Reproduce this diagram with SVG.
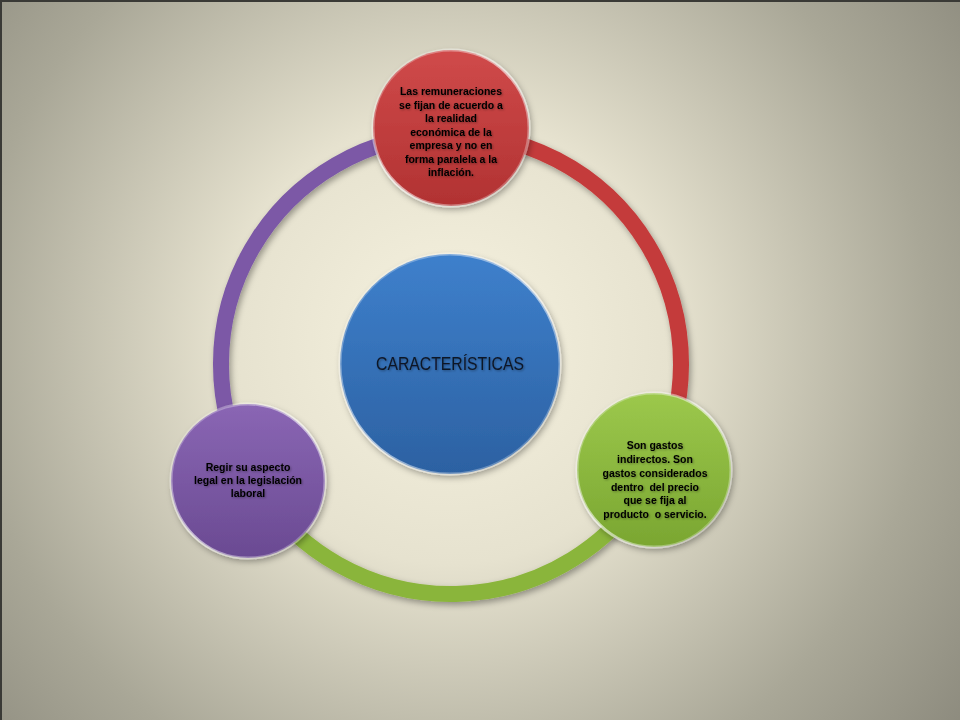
<svg xmlns="http://www.w3.org/2000/svg" width="960" height="720" viewBox="0 0 960 720">
<defs>
<radialGradient id="bg" gradientUnits="userSpaceOnUse" cx="450" cy="340" r="640">
<stop offset="0" stop-color="#f6f2df"/>
<stop offset="0.35" stop-color="#e6e2cf"/>
<stop offset="0.75" stop-color="#a9a797"/>
<stop offset="1" stop-color="#8d8b7e"/>
</radialGradient>
<linearGradient id="gBlue" x1="0" y1="0" x2="0" y2="1">
<stop offset="0" stop-color="#3e80cc"/>
<stop offset="1" stop-color="#2c61a2"/>
</linearGradient>
<linearGradient id="gRed" x1="0" y1="0" x2="0" y2="1">
<stop offset="0" stop-color="#d04a4a"/>
<stop offset="1" stop-color="#b13232"/>
</linearGradient>
<linearGradient id="gGreen" x1="0" y1="0" x2="0" y2="1">
<stop offset="0" stop-color="#9cc84c"/>
<stop offset="1" stop-color="#7aa631"/>
</linearGradient>
<linearGradient id="gPurple" x1="0" y1="0" x2="0" y2="1">
<stop offset="0" stop-color="#8a66b4"/>
<stop offset="1" stop-color="#6a4a92"/>
</linearGradient>
<linearGradient id="rim" x1="0" y1="0" x2="1" y2="1">
<stop offset="0" stop-color="#ffffff" stop-opacity="0.1"/>
<stop offset="0.5" stop-color="#ffffff" stop-opacity="0.6"/>
<stop offset="1" stop-color="#ffffff" stop-opacity="0.1"/>
</linearGradient>
<filter id="sh" x="-20%" y="-20%" width="140%" height="140%">
<feDropShadow dx="2" dy="3" stdDeviation="3" flood-color="#000" flood-opacity="0.35"/>
</filter>
<filter id="tsh" x="-10%" y="-30%" width="120%" height="160%">
<feDropShadow dx="1" dy="1" stdDeviation="0.8" flood-color="#000" flood-opacity="0.35"/>
</filter>
</defs>
<style>
.arc{fill:none;stroke-width:16;stroke-linecap:butt}
.node{stroke:url(#rim);stroke-width:3}
.t{font-family:"Liberation Sans",Arial,sans-serif;font-weight:bold;font-size:10.5px;fill:#000;text-anchor:middle;white-space:pre}
.c{font-family:"Liberation Sans",Arial,sans-serif;font-size:18.5px;fill:#0d1626;text-anchor:middle}
</style>
<rect x="0" y="0" width="960" height="720" fill="url(#bg)"/>
<rect x="0" y="0" width="960" height="2" fill="#3a3a36"/>
<rect x="0" y="0" width="2" height="720" fill="#3a3a36"/>
<g id="connectors" filter="url(#sh)">
<path class="arc" stroke="#c43b3b" d="M 451 134 A 230 230 0 0 1 654.8 470.6"/>
<path class="arc" stroke="#8ab53a" d="M 654.8 470.6 A 230 230 0 0 1 251.8 479"/>
<path class="arc" stroke="#7b58a6" d="M 251.8 479 A 230 230 0 0 1 451 134"/>
</g>
<g id="center">
<circle cx="450" cy="364" r="110" fill="url(#gBlue)" class="node" filter="url(#sh)"/>
<text class="c" x="450" y="370" textLength="148" lengthAdjust="spacingAndGlyphs" filter="url(#tsh)">CARACTERÍSTICAS</text>
</g>
<g id="node-red">
<circle cx="451" cy="128" r="78" fill="url(#gRed)" class="node" filter="url(#sh)"/>
<g filter="url(#tsh)">
<text class="t" x="451" y="95">Las remuneraciones</text>
<text class="t" x="451" y="109">se fijan de acuerdo a</text>
<text class="t" x="451" y="122">la realidad</text>
<text class="t" x="451" y="136">económica de la</text>
<text class="t" x="451" y="149">empresa y no en</text>
<text class="t" x="451" y="163">forma paralela a la</text>
<text class="t" x="451" y="176">inflación.</text>
</g>
</g>
<g id="node-green">
<circle cx="654" cy="470" r="77" fill="url(#gGreen)" class="node" filter="url(#sh)"/>
<g filter="url(#tsh)">
<text class="t" x="655" y="449">Son gastos</text>
<text class="t" x="655" y="463">indirectos. Son</text>
<text class="t" x="655" y="477">gastos considerados</text>
<text class="t" x="655" y="491">dentro  del precio</text>
<text class="t" x="655" y="504">que se fija al</text>
<text class="t" x="655" y="518">producto  o servicio.</text>
</g>
</g>
<g id="node-purple">
<circle cx="248" cy="481" r="77" fill="url(#gPurple)" class="node" filter="url(#sh)"/>
<g filter="url(#tsh)">
<text class="t" x="248" y="471">Regir su aspecto</text>
<text class="t" x="248" y="484">legal en la legislación</text>
<text class="t" x="248" y="497">laboral</text>
</g>
</g>
</svg>
